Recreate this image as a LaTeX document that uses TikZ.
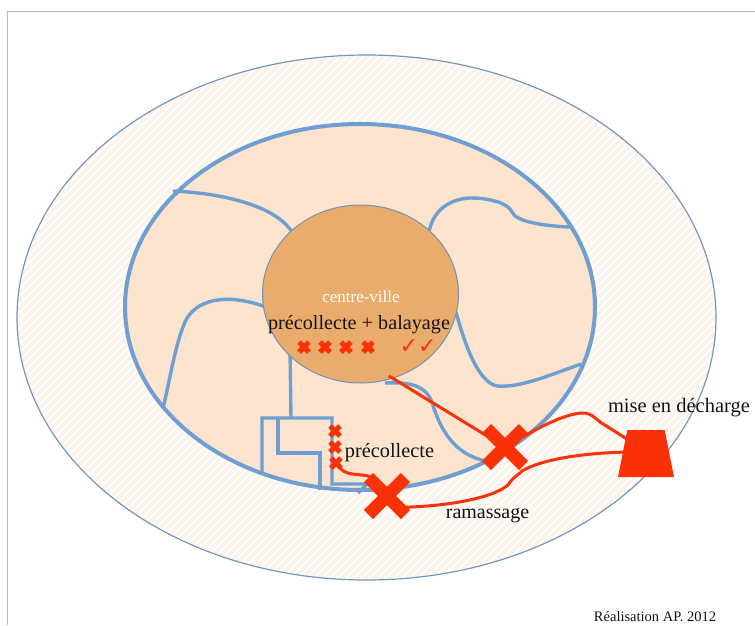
\documentclass[tikz,border=0pt]{standalone}
\usepackage{fontspec}
\setmainfont{Liberation Serif}
\newfontfamily\symfont{DejaVu Sans}
\usetikzlibrary{shapes.geometric,shapes.misc}
\definecolor{rouge}{HTML}{FB3208}
\definecolor{bleu}{HTML}{6E9FD0}
\definecolor{peche}{HTML}{FDE4CF}
\definecolor{orange}{HTML}{E9AC6D}
\definecolor{rayure}{HTML}{FCF3EA}
\tikzset{
  limite/.style={bleu,line width=3.4pt},
  trajet/.style={rouge,line width=3pt},
  grandx/.style={cross out,draw=rouge,line width=13pt,minimum size=24pt,inner sep=0pt},
  petitx/.style={cross out,draw=rouge,line width=5pt,minimum size=5pt,inner sep=0pt},
  texte/.style={inner sep=0pt,text=black!92}
}
\begin{document}
\begin{tikzpicture}[x=1pt,y=-1pt]
  \useasboundingbox (0,0) rectangle (755,625);
  \draw[black!28,line width=1pt] (755,11) -- (7,11) -- (7,625);

  \begin{scope}
    \clip (366.5,317.5) ellipse (349.5pt and 262.5pt);
    \foreach \i in {-600,-592,...,1400}
      \draw[rayure,line width=3.5pt] (\i,640) -- (\i+640,0);
  \end{scope}
  \node[ellipse,draw=bleu!75!gray,line width=1.2pt,minimum width=699pt,minimum height=525pt,inner sep=0pt] (outer) at (366.5,317.5) {};
  \node[ellipse,draw=bleu,fill=peche,line width=4pt,minimum width=470pt,minimum height=366pt,inner sep=0pt] (inner) at (360,307) {};

  \draw[limite] (173,191) .. controls (220,193) and (275,205) .. (292,232);
  \draw[limite] (429,232) .. controls (433,210) and (450,199) .. (470,198) .. controls (490,198) and (508,203) .. (512,212) .. controls (516,222) and (545,226) .. (570,227);
  \draw[limite] (163,408) .. controls (170,380) and (175,345) .. (185,322) .. controls (195,300) and (225,292) .. (266,307);
  \draw[limite] (456,312) .. controls (465,345) and (478,382) .. (497,386) .. controls (520,388) and (550,375) .. (581,364);
  \draw[limite] (385,383) .. controls (410,382) and (425,385) .. (432,402) .. controls (440,430) and (455,455) .. (486,461);
  \draw[limite] (290,350) -- (291,418);
  \draw[limite] (262,472) -- (262,418) -- (332,418) -- (332,484) -- (367,484) -- (358,493);
  \draw[limite] (278,418) -- (278,453) -- (320,453) -- (320,490);

  \node[ellipse,draw=bleu!60!gray,fill=orange,line width=1pt,minimum width=196pt,minimum height=178pt,inner sep=0pt] (centre) at (360.5,294) {};

  \node[texte,text=white,font=\fontsize{17}{17}\selectfont] (ville) at (361,297) {centre-ville};
  \node[texte,font=\fontsize{20.2}{20}\selectfont] (balayage) at (359,325) {précollecte + balayage};
  \node[texte,font=\fontsize{20.3}{20}\selectfont] (precollecte) at (389.5,453) {précollecte};
  \node[texte,font=\fontsize{20}{20}\selectfont] (ramassage) at (487.5,516) {ramassage};
  \node[texte,font=\fontsize{20.5}{20}\selectfont] (mise) at (679,408) {mise en décharge};
  \node[texte,font=\fontsize{14.5}{14}\selectfont] (credit) at (655,617) {Réalisation AP. 2012};

  \foreach \n/\x in {a/304,b/325,c/346,d/368}
    \node[petitx] (v\n) at (\x,347) {};
  \node[texte,text=rouge,font=\symfont\fontsize{22}{22}\selectfont] (balai) at (418,347) {✓✓};

  \node[petitx] (p1) at (335,431) {};
  \node[petitx] (p2) at (335,447) {};
  \node[petitx] (p3) at (336,463) {};

  \node[grandx] (x1) at (505,447) {};
  \node[grandx] (x2) at (387,496) {};
  \node[trapezium,trapezium stretches=true,trapezium angle=76,fill=rouge,minimum width=56pt,minimum height=47pt,inner sep=1pt] (decharge) at (646,453.5) {};

  \coordinate (depart) at (389,376);
  \coordinate (entreeA) at (630,441);
  \coordinate (entreeB) at (628,452);

  \draw[trajet] (depart) -- (x1);
  \draw[trajet] (x1) .. controls (535,430) and (565,413) .. (583,413) .. controls (591,413) and (595,418) .. (600,422) -- (entreeA);
  \draw[trajet] (x2) .. controls (395,507) and (400,507) .. (410,507) .. controls (440,506) and (490,500) .. (508,485) .. controls (515,475) and (515,478) .. (522,471) .. controls (540,460) and (580,453) .. (entreeB);
  \draw[trajet] (p3) .. controls (345,474) and (352,474) .. (362,475) .. controls (372,476) and (376,480) .. (x2);
\end{tikzpicture}
\end{document}
